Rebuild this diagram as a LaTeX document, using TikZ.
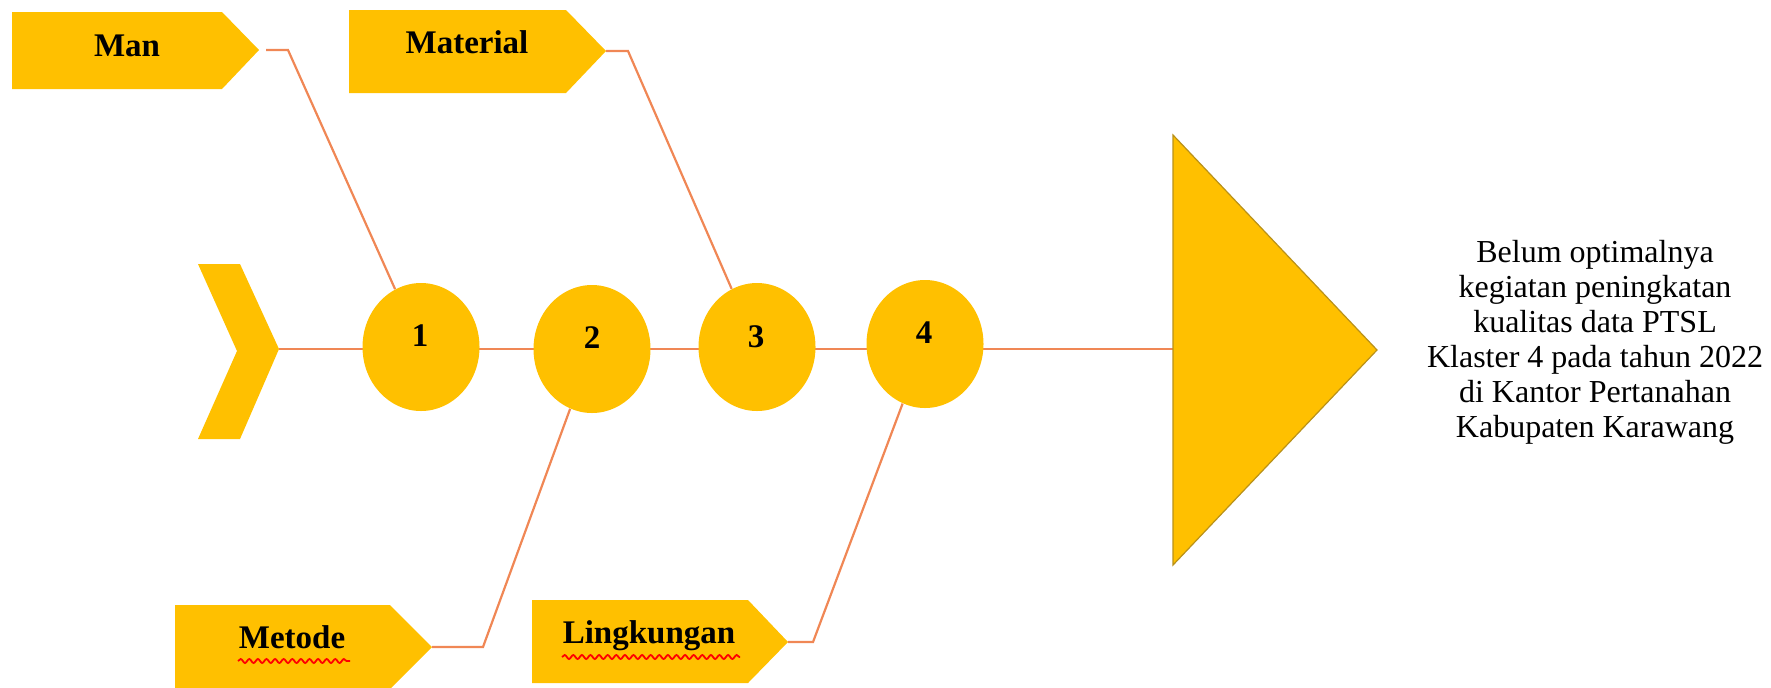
\documentclass[tikz,border=0pt]{standalone}
\usepackage{fontspec}
\setmainfont{Liberation Serif}
\usetikzlibrary{shapes.geometric,decorations.pathmorphing}
\pgfdeclarelayer{bg}
\pgfsetlayers{bg,main}
\definecolor{gold}{RGB}{255,192,0}
\definecolor{bonec}{RGB}{240,135,85}
\definecolor{goldedge}{RGB}{185,145,25}
\begin{document}
\begin{tikzpicture}[x=0.5pt,y=-0.5pt,
  causebox/.style={fill=gold, draw=none},
  lbl/.style={font=\fontsize{16.5pt}{18pt}\selectfont\bfseries, anchor=base, inner sep=0pt},
  num/.style={font=\fontsize{16.5pt}{18pt}\selectfont\bfseries, anchor=base, inner sep=0pt},
  bone/.style={draw=bonec, line width=1.1pt},
  wavy/.style={draw=red, line width=0.9pt, decorate, decoration={snake, amplitude=1pt, segment length=4.3pt}},
  bubble/.style={ellipse, fill=gold, minimum width=58.5pt, minimum height=64pt, inner sep=0pt},
  effecttext/.style={font=\fontsize{16pt}{17.5pt}\selectfont, align=center, inner sep=0pt}]
\useasboundingbox (0,0) rectangle (1771,687);

% head triangle and tail chevron
\fill[gold, draw=goldedge, line width=0.6pt] (1173,135) -- (1377,350) -- (1173,565) -- cycle;
\coordinate (head) at (1173,349);
\fill[gold] (198,264) -- (240,264) -- (279,349) -- (240,439) -- (198,439) -- (237,351) -- cycle;
\coordinate (tail) at (279,349);

% cause boxes
\fill[causebox] (12,12) -- (222,12) -- (259,50) -- (222,89) -- (12,89) -- cycle;
\coordinate (manTip) at (266,50);
\coordinate (manBend) at (288,50);
\fill[causebox] (349,10) -- (566,10) -- (606,51) -- (566,93) -- (349,93) -- cycle;
\coordinate (matTip) at (606,51);
\coordinate (matBend) at (628,51);
\fill[causebox] (175,605) -- (390,605) -- (432,647) -- (390,689) -- (175,689) -- cycle;
\coordinate (metTip) at (432,647);
\coordinate (metBend) at (483,647);
\fill[causebox] (532,600) -- (748,600) -- (788,642) -- (748,683) -- (532,683) -- cycle;
\coordinate (linTip) at (788,642);
\coordinate (linBend) at (813,642);

\node[lbl] (man) at (127,56) {Man};
\node[lbl] (mat) at (467,53) {Material};
\node[lbl] (met) at (292,648) {Metode};
\node[lbl] (lin) at (649,643) {Lingkungan};
\draw[wavy] (238,661) -- (350,661);
\draw[wavy] (562,657) -- (740,657);

% bubbles
\node[bubble] (c1) at (421,347) {};
\node[bubble] (c2) at (592,349) {};
\node[bubble] (c3) at (757,347) {};
\node[bubble] (c4) at (925,344) {};
\node[num] (n1) at (420,346) {1};
\node[num] (n2) at (592,348) {2};
\node[num] (n3) at (756,347) {3};
\node[num] (n4) at (924,343) {4};

% effect text
\node[effecttext] (effect) at (1595,342) {Belum optimalnya\\kegiatan peningkatan\\kualitas data PTSL\\Klaster 4 pada tahun 2022\\di Kantor Pertanahan\\Kabupaten Karawang};

% bones
\begin{pgfonlayer}{bg}
\draw[bone] (tail) -- (head);
\draw[bone] (manTip) -- (manBend) -- (c1);
\draw[bone] (matTip) -- (matBend) -- (c3);
\draw[bone] (metTip) -- (metBend) -- (c2);
\draw[bone] (linTip) -- (linBend) -- (c4);
\end{pgfonlayer}
\end{tikzpicture}
\end{document}
